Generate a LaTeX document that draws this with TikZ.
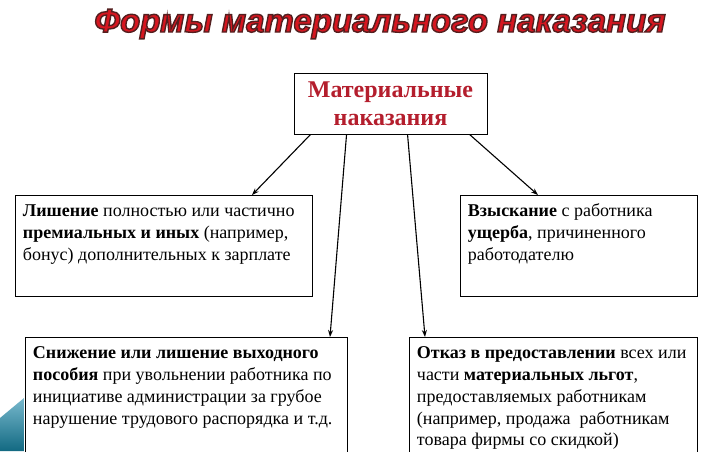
\documentclass[tikz,border=0pt]{standalone}
\usepackage{fontspec}
\setmainfont{Liberation Serif}
\newfontfamily\titlefont{Liberation Sans}
\usetikzlibrary{arrows.meta}

\definecolor{titlered}{RGB}{214,22,32}
\definecolor{headred}{RGB}{180,30,45}
\definecolor{decoteal}{RGB}{18,105,130}
\definecolor{decolight}{RGB}{120,185,205}

\newcommand{\cardtext}[3]{\parbox[t][#2pt][t]{#1pt}{\raggedright\leftskip=7.5pt\rule{0pt}{21.5pt}#3}}
\newcommand{\heavy}[1]{\special{pdf:code q 2 Tr 1.4 w 0.33 0.12 0.12 RG}#1\special{pdf:code Q}}

\tikzset{
  card/.style={draw, line width=0.9pt, anchor=north west, inner sep=0pt,
    font=\fontsize{18}{21.7}\selectfont},
  head/.style={draw, line width=0.9pt, minimum width=193pt, minimum height=61pt,
    inner sep=0pt, align=center, text=headred, font=\bfseries\fontsize{24}{28}\selectfont},
  titletext/.style={text=titlered, font=\titlefont\bfseries\itshape\fontsize{33}{33}\selectfont},
  link/.style={line width=1.1pt, -{Stealth[length=7pt,width=5pt]}},
}

\begin{document}
\begin{tikzpicture}[x=1pt,y=-1pt]
\useasboundingbox (0,0) rectangle (716,451);

% title
\node[titletext] (title) at (380,24) {\heavy{Формы материального наказания}};

% central box
\node[head] (mat) at (390.5,103.5) {Материальные\\наказания};

% forms
\node[card] (lish) at (15,195) {\cardtext{297}{101}{\textbf{Лишение} полностью или частично\\
  \textbf{премиальных и иных} (например,\\
  бонус) дополнительных к зарплате}};
\node[card] (vzysk) at (460,195) {\cardtext{237}{101}{\textbf{Взыскание} с работника\\
  \textbf{ущерба}, причиненного\\
  работодателю}};
\node[card] (snizh) at (25,337) {\cardtext{322}{125}{\textbf{Снижение или лишение выходного}\\
  \textbf{пособия} при увольнении работника по\\
  инициативе администрации за грубое\\
  нарушение трудового распорядка и т.д.}};
\node[card] (otkaz) at (409,337) {\cardtext{288}{125}{\textbf{Отказ в предоставлении} всех или\\
  части \textbf{материальных льгот},\\
  предоставляемых работникам\\
  (например, продажа\ \ работникам\\
  товара фирмы со скидкой)}};

% arrows
\draw[link] ([xshift=17pt]mat.south west) -- ([xshift=237pt]lish.north west);
\draw[link] ([xshift=53pt]mat.south west) -- ([xshift=305pt]snizh.north west);
\draw[link] ([xshift=114pt]mat.south west) -- ([xshift=16pt]otkaz.north west);
\draw[link] ([xshift=176pt]mat.south west) -- ([xshift=78pt]vzysk.north west);

% corner decoration
\shade[top color=decolight, bottom color=decoteal] (0,418) -- (24,398) -- (24,451) -- (0,451) -- cycle;
\end{tikzpicture}
\end{document}
